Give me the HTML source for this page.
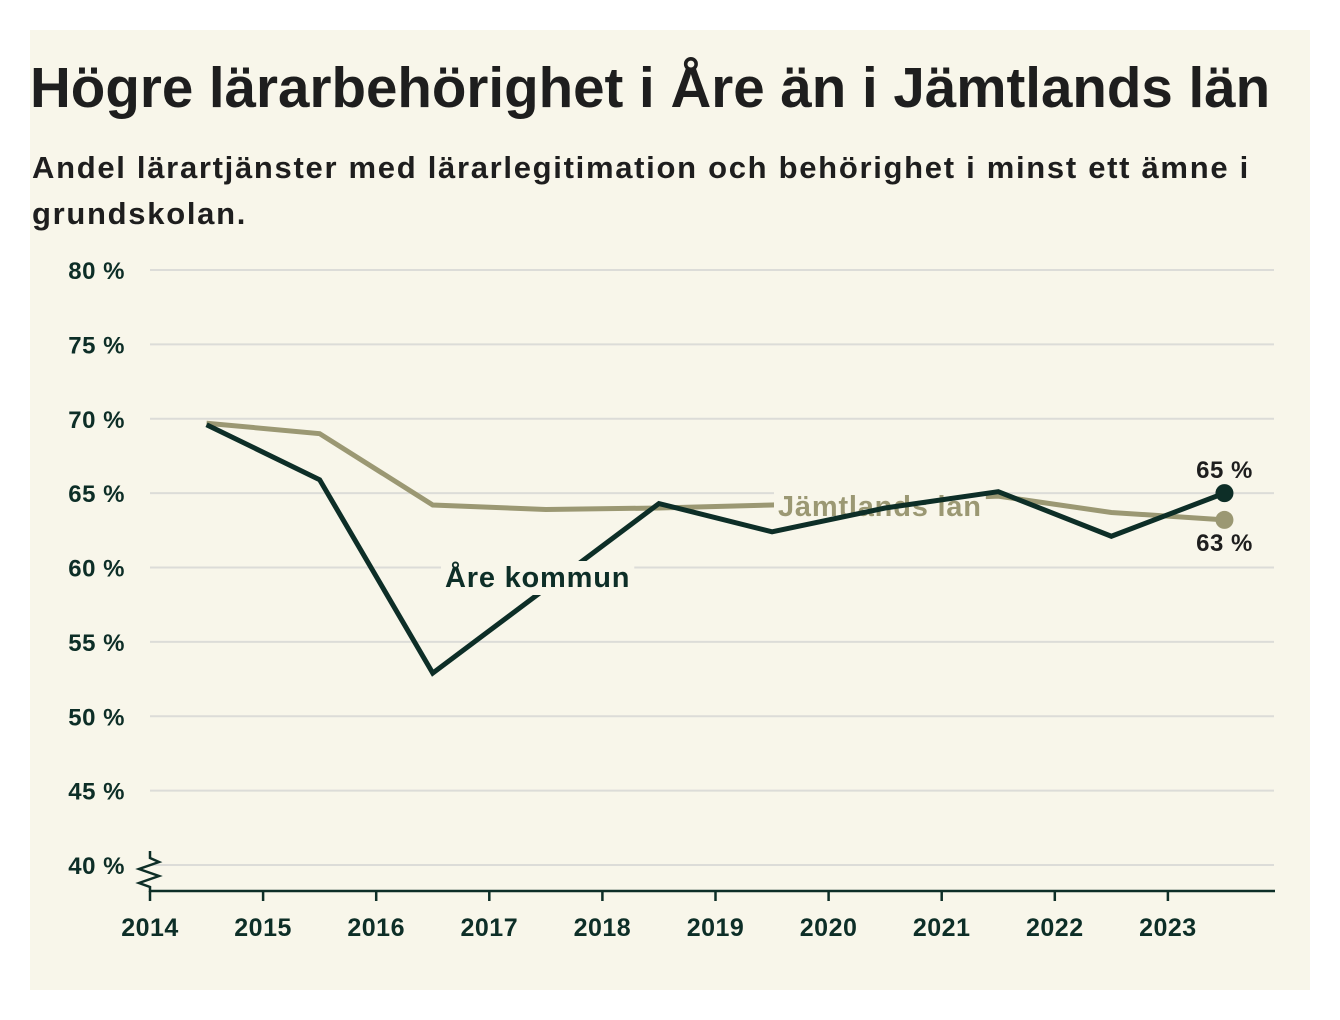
<!DOCTYPE html>
<html><head><meta charset="utf-8"><style>
body{margin:0;background:#fff;width:1340px;height:1020px;overflow:hidden;font-family:"Liberation Sans",sans-serif}
#panel{position:absolute;left:30px;top:30px;width:1280px;height:960px;background:#f8f6ea}
h1{position:absolute;left:30px;top:56px;margin:0;font-size:56.5px;font-weight:bold;color:#1e1e1e;letter-spacing:0px;white-space:nowrap;line-height:64px}
p{position:absolute;left:32px;top:145px;margin:0;width:1265px;font-size:31px;font-weight:bold;color:#1e1e1e;line-height:46px;letter-spacing:1.7px}
svg{position:absolute;left:0;top:0}
</style></head><body>
<div id="panel"></div>
<h1>Högre lärarbehörighet i Åre än i Jämtlands län</h1>
<p>Andel lärartjänster med lärarlegitimation och behörighet i minst ett ämne i grundskolan.</p>
<svg id="chart" width="1340" height="1020"></svg>
<script>
const years=[2014.5,2015.5,2016.5,2017.5,2018.5,2019.5,2020.5,2021.5,2022.5,2023.5];
const areValues=[69.6,65.9,52.9,58.6,64.3,62.4,64.0,65.1,62.1,65.0];
const lanValues=[69.7,69.0,64.2,63.9,64.0,64.2,64.5,64.8,63.7,63.2];
const yTicks=[40,45,50,55,60,65,70,75,80];
const xTicks=[2014,2015,2016,2017,2018,2019,2020,2021,2022,2023];
const NS="http://www.w3.org/2000/svg";
const svg=document.getElementById('chart');
const x=v=>150+(v-2014)*113.1;
const y=v=>865-(v-40)*14.875;
function mk(t,a,p){const e=document.createElementNS(NS,t);for(const k in a)e.setAttribute(k,a[k]);(p||svg).appendChild(e);return e;}
const bg='#f8f6ea',dark='#0d2e27',tan='#9b9873';
yTicks.forEach(v=>{
 const l=mk('line',{x1:150,x2:1274,y1:y(v),y2:y(v),stroke:'#dcdcd8','stroke-width':2});
 
 
 const t=mk('text',{x:125,y:y(v)+9,'text-anchor':'end','font-size':24,'font-weight':'bold',fill:dark,'letter-spacing':0.5});
 t.textContent=v+' %';
 
 
});
const ax=mk('line',{x1:150,x2:1275,y1:891,y2:891,stroke:dark,'stroke-width':2.5});


const zz=mk('path',{d:'M150 851 L150 858 L159 862 L139 869 L159 876 L139 883 L150 887 L150 892',fill:'none',stroke:dark,'stroke-width':2.5});


xTicks.forEach(v=>{
 const l=mk('line',{x1:x(v),x2:x(v),y1:891,y2:901,stroke:dark,'stroke-width':2.5});
 
 
 const t=mk('text',{x:x(v),y:936,'text-anchor':'middle','font-size':25,'font-weight':'bold',fill:dark,'letter-spacing':0.5});
 t.textContent=v;
 
 
});
function line(vals,color,name){
 const p=mk('polyline',{points:vals.map((v,i)=>x(years[i])+','+y(v)).join(' '),fill:'none',stroke:color,'stroke-width':5,'stroke-linejoin':'miter'});
 
 
}
function label(txt,lx,ly,color,name){
 const r=mk('rect',{x:lx-4,y:ly-26,width:10,height:34,fill:bg});
 
 
 const t=mk('text',{x:lx,y:ly,'font-size':29,'font-weight':'bold',fill:color,'letter-spacing':0.8});
 t.textContent=txt;
 
 
 r.setAttribute('width',t.getBBox().width+8);
}
line(lanValues,tan,'jamtland-line');
label('Jämtlands län',778,y(64.2)+11,tan,'jamtland-label');
line(areValues,dark,'are-line');
label('Åre kommun',445,587,dark,'are-label');
const n=years.length-1;
const d1=mk('circle',{cx:x(years[n]),cy:y(lanValues[n]),r:9,fill:tan});


const d2=mk('circle',{cx:x(years[n]),cy:y(areValues[n]),r:9,fill:dark});


const v1=mk('text',{x:x(years[n]),y:y(areValues[n])-15,'text-anchor':'middle','font-size':24,'font-weight':'bold',fill:'#1e1e1e','letter-spacing':0.5});
v1.textContent=Math.round(areValues[n])+' %';


const v2=mk('text',{x:x(years[n]),y:y(lanValues[n])+31,'text-anchor':'middle','font-size':24,'font-weight':'bold',fill:'#1e1e1e','letter-spacing':0.5});
v2.textContent=Math.round(lanValues[n])+' %';


</script>
</body></html>
